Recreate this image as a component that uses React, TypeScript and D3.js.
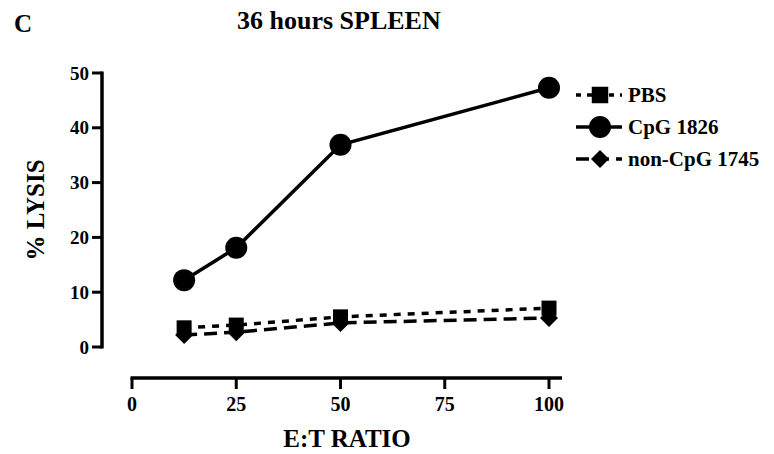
import React from "react";
import * as d3 from "d3";

const ratios = [12.5, 25, 50, 100];
const pbs = [3.5, 4.0, 5.5, 7.1];
const cpg1826 = [12.2, 18.1, 36.9, 47.3];
const nonCpg1745 = [2.2, 2.7, 4.4, 5.3];
const xTicks = [0, 25, 50, 75, 100];
const yTicks = [0, 10, 20, 30, 40, 50];
const seriesNames = ["PBS", "CpG 1826", "non-CpG 1745"];

const W = 774;
const H = 454;
const FONT = "Liberation Serif";

export default function App() {
  const x = d3.scaleLinear().domain([0, 100]).range([132, 549]);
  const y = d3.scaleLinear().domain([0, 50]).range([347, 73]);
  const line = d3
    .line<[number, number]>()
    .x((d) => x(d[0]))
    .y((d) => y(d[1]));

  const series = [
    { name: seriesNames[0], values: pbs, dash: "7,7", marker: "square" },
    { name: seriesNames[1], values: cpg1826, dash: "", marker: "circle" },
    { name: seriesNames[2], values: nonCpg1745, dash: "13,7", marker: "diamond" },
  ];

  const marker = (type: string, cx: number, cy: number, key: string, scale = 1) => {
    if (type === "circle") return <circle key={key} cx={cx} cy={cy} r={11 * scale} fill="#000" />;
    if (type === "square") {
      const s = 15 * scale;
      return <rect key={key} x={cx - s / 2} y={cy - s / 2} width={s} height={s} fill="#000" />;
    }
    const r = 9 * scale;
    return (
      <path
        key={key}
        d={`M${cx},${cy - r}L${cx + r},${cy}L${cx},${cy + r}L${cx - r},${cy}Z`}
        fill="#000"
      />
    );
  };

  const legendY = [95, 127, 159];
  const ts = { fontFamily: FONT, fontWeight: "bold" as const };

  return (
    <svg
      width={W}
      height={H}
      style={{ position: "absolute", left: 0, top: 0, background: "#fff" }}
    >
      <rect width={W} height={H} fill="#fff" />
      <text x={14} y={32} fontSize={25} style={ts}>C</text>
      <text x={237} y={29} fontSize={26} style={ts}>36 hours SPLEEN</text>

      {/* Y axis */}
      <line x1={102} x2={102} y1={y(50) - 1.5} y2={y(0) + 1.5} stroke="#000" strokeWidth={3.5} />
      {yTicks.map((t) => (
        <g key={`yt${t}`}>
          <line x1={92} x2={102} y1={y(t)} y2={y(t)} stroke="#000" strokeWidth={3} />
          <text x={89} y={y(t)} dy="0.35em" textAnchor="end" fontSize={19} style={ts}>
            {t}
          </text>
        </g>
      ))}
      <text
        transform={`translate(44,${y(25)}) rotate(-90)`}
        textAnchor="middle"
        fontSize={25}
        style={ts}
      >
        % LYSIS
      </text>

      {/* X axis */}
      <line x1={x(0) - 1.5} x2={562} y1={378} y2={378} stroke="#000" strokeWidth={3.5} />
      {xTicks.map((t) => (
        <g key={`xt${t}`}>
          <line x1={x(t)} x2={x(t)} y1={378} y2={389} stroke="#000" strokeWidth={3} />
          <text x={x(t)} y={411} textAnchor="middle" fontSize={20} style={ts}>
            {t}
          </text>
        </g>
      ))}
      <text x={347} y={447} textAnchor="middle" fontSize={25} style={ts}>
        E:T RATIO
      </text>

      {/* Lines */}
      {series.map((s) => (
        <path
          key={`l${s.name}`}
          d={line(ratios.map((r, i) => [r, s.values[i]]) as [number, number][]) || ""}
          fill="none"
          stroke="#000"
          strokeWidth={3.5}
          strokeDasharray={s.dash || undefined}
        />
      ))}
      {/* Markers */}
      {series.map((s) => ratios.map((r, i) => marker(s.marker, x(r), y(s.values[i]), `m${s.name}${i}`)))}

      {/* Legend */}
      {series.map((s, i) => (
        <g key={`lg${s.name}`}>
          <line
            x1={576}
            x2={622}
            y1={legendY[i]}
            y2={legendY[i]}
            stroke="#000"
            strokeWidth={3.5}
            strokeDasharray={s.dash ? (i === 0 ? "5,6" : "13,7") : undefined}
          />
          {marker(s.marker, 600, legendY[i], `lm${i}`, s.marker === "square" ? 1.1 : 1)}
          <text x={628} y={legendY[i]} dy="0.35em" fontSize={21} style={ts}>
            {s.name}
          </text>
        </g>
      ))}
    </svg>
  );
}
